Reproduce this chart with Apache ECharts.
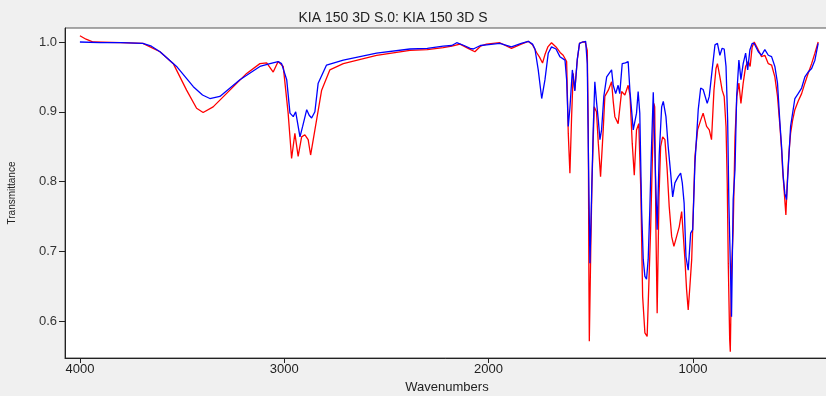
<!DOCTYPE html>
<html>
<head>
<meta charset="utf-8">
<script src="https://cdn.jsdelivr.net/npm/echarts@6/dist/echarts.min.js"></script>
<style>
html,body{margin:0;padding:0;background:#f0f0f0;}
#c{width:826px;height:396px;}
</style>
</head>
<body>
<div id="c"></div>
<script>
const titleText = 'KIA 150 3D S.0: KIA 150 3D S';
const xName = 'Wavenumbers';
const yName = 'Transmittance';
const xTicks = [4000, 3000, 2000, 1000];
const yTicks = [0.6, 0.7, 0.8, 0.9, 1.0];

const wnBlue = [4000,3900,3800,3692,3650,3608,3527,3445,3400,3364,3315,3217,3119,3070,3030,3013,2988,2972,2956,2944,2923,2910,2890,2878,2866,2850,2834,2793,2711,2548,2385,2300,2222,2180,2156,2120,2090,2075,2040,2010,1945,1888,1840,1806,1785,1773,1757,1740,1724,1708,1692,1670,1651,1626,1618,1610,1602,1590,1578,1566,1555,1540,1525,1517,1512,1504,1496,1488,1480,1471,1463,1455,1447,1436,1422,1410,1398,1390,1378,1366,1358,1346,1330,1317,1308,1292,1276,1268,1260,1251,1243,1235,1227,1219,1211,1203,1194,1187,1181,1175,1165,1153,1145,1132,1121,1109,1099,1088,1072,1060,1052,1043,1034,1023,1011,1001,990,974,962,950,930,920,904,892,880,868,857,847,838,830,824,817,811,803,794,786,775,765,754,742,732,721,710,700,680,664,648,631,615,599,586,574,566,558,550,542,534,522,512,501,485,468,452,436,419,403,387];
const tBlue = [1.000,0.999,0.999,0.998,0.994,0.986,0.965,0.936,0.924,0.919,0.922,0.946,0.965,0.969,0.972,0.969,0.946,0.898,0.893,0.900,0.864,0.879,0.903,0.895,0.891,0.900,0.941,0.967,0.974,0.984,0.990,0.991,0.994,0.995,0.999,0.995,0.991,0.990,0.995,0.996,0.998,0.993,0.998,1.001,0.997,0.990,0.960,0.919,0.946,0.984,0.993,0.990,0.979,0.974,0.946,0.879,0.905,0.960,0.930,0.975,0.998,1.000,1.001,0.969,0.850,0.683,0.778,0.874,0.943,0.912,0.888,0.860,0.874,0.922,0.950,0.955,0.960,0.938,0.926,0.938,0.926,0.969,0.970,0.972,0.929,0.874,0.898,0.929,0.898,0.759,0.688,0.664,0.660,0.688,0.759,0.845,0.928,0.928,0.788,0.731,0.838,0.907,0.915,0.893,0.850,0.812,0.778,0.798,0.807,0.812,0.798,0.769,0.692,0.673,0.726,0.731,0.826,0.903,0.934,0.932,0.912,0.922,0.965,0.996,0.998,0.981,0.991,0.990,0.965,0.888,0.769,0.683,0.606,0.774,0.817,0.922,0.974,0.946,0.969,0.984,0.960,0.989,0.998,0.998,0.986,0.981,0.989,0.981,0.979,0.965,0.941,0.883,0.850,0.807,0.783,0.774,0.817,0.879,0.898,0.919,0.926,0.934,0.950,0.957,0.962,0.974,0.998];

const wnRed = [4000,3970,3935,3800,3692,3608,3543,3478,3429,3397,3348,3266,3184,3119,3086,3054,3030,3005,2981,2964,2948,2932,2915,2899,2883,2871,2850,2817,2777,2711,2548,2385,2300,2222,2180,2140,2100,2067,2040,2010,1945,1888,1840,1806,1785,1765,1750,1736,1724,1710,1692,1670,1650,1635,1618,1610,1602,1594,1586,1578,1566,1555,1540,1527,1517,1512,1509,1507,1500,1494,1483,1472,1463,1452,1439,1431,1414,1398,1390,1382,1366,1358,1349,1333,1317,1308,1297,1287,1276,1265,1255,1246,1235,1224,1215,1207,1199,1191,1187,1181,1175,1166,1158,1148,1137,1126,1116,1104,1093,1080,1067,1055,1047,1039,1031,1023,1015,1006,998,990,977,962,950,933,920,909,897,887,880,868,857,847,838,832,827,820,817,811,803,794,785,775,765,754,742,729,720,710,700,684,664,648,631,615,599,586,574,566,561,555,545,538,530,522,512,501,485,468,452,436,419,403,387];
const tRed = [1.009,1.004,1.000,0.999,0.998,0.986,0.969,0.931,0.905,0.899,0.907,0.931,0.955,0.969,0.970,0.957,0.972,0.965,0.898,0.833,0.869,0.836,0.864,0.867,0.860,0.838,0.874,0.931,0.960,0.969,0.981,0.988,0.989,0.992,0.994,0.997,0.991,0.986,0.994,0.997,0.999,0.991,0.997,1.001,0.996,0.985,0.978,0.970,0.982,0.993,0.999,0.993,0.985,0.981,0.972,0.869,0.812,0.890,0.955,0.931,0.974,0.998,1.000,1.000,0.988,0.874,0.659,0.571,0.700,0.800,0.907,0.900,0.855,0.807,0.874,0.922,0.931,0.943,0.915,0.893,0.883,0.882,0.929,0.924,0.938,0.924,0.855,0.809,0.874,0.883,0.788,0.635,0.583,0.578,0.659,0.731,0.826,0.912,0.907,0.731,0.611,0.778,0.850,0.864,0.860,0.817,0.764,0.721,0.707,0.721,0.735,0.757,0.755,0.688,0.645,0.616,0.649,0.688,0.759,0.836,0.874,0.888,0.898,0.879,0.874,0.860,0.931,0.962,0.969,0.950,0.931,0.922,0.879,0.798,0.683,0.573,0.556,0.673,0.731,0.864,0.922,0.941,0.912,0.941,0.965,0.972,0.965,0.993,1.000,0.991,0.979,0.981,0.969,0.967,0.950,0.922,0.879,0.845,0.817,0.793,0.752,0.800,0.841,0.869,0.888,0.903,0.915,0.926,0.941,0.955,0.969,0.984,1.000];

const zip = (a, b) => a.map((v, i) => [v, b[i]]);

const chart = echarts.init(document.getElementById('c'), null, {renderer: 'canvas'});
const font = 'Liberation Sans, Arial, sans-serif';
chart.setOption({
  backgroundColor: '#f0f0f0',
  animation: false,
  title: {
    text: titleText,
    left: 388, top: 6, textAlign: 'center',
    textStyle: {fontFamily: font, fontSize: 14, fontWeight: 'normal', color: '#222'}
  },
  grid: {
    left: 65, right: -3, top: 28, bottom: 38,
    containLabel: false, outerBoundsMode: 'none',
    show: true, backgroundColor: '#ffffff', borderColor: '#555', borderWidth: 1
  },
  xAxis: {
    type: 'value', inverse: true, min: 334, max: 4073,
    name: xName, nameLocation: 'middle', nameGap: 20,
    nameTextStyle: {fontFamily: font, fontSize: 13, color: '#222'},
    axisLine: {show: true, onZero: false, lineStyle: {color: '#222', width: 1}},
    axisTick: {show: true, length: 5, customValues: xTicks, lineStyle: {color: '#222'}},
    axisLabel: {customValues: xTicks, fontFamily: font, fontSize: 13, color: '#222', margin: 5,
      formatter: v => String(Math.round(v))},
    splitLine: {show: false}
  },
  yAxis: {
    type: 'value', min: 0.547, max: 1.0201,
    name: yName, nameLocation: 'middle', nameGap: 48, nameRotate: 90,
    nameTextStyle: {fontFamily: font, fontSize: 10, color: '#222'},
    axisLine: {show: true, onZero: false, lineStyle: {color: '#222', width: 1}},
    axisTick: {show: true, length: 6, customValues: yTicks, lineStyle: {color: '#222'}},
    axisLabel: {customValues: yTicks, fontFamily: font, fontSize: 13, color: '#333', margin: 8,
      formatter: v => v.toFixed(1)},
    splitLine: {show: false}
  },
  series: [
    {type: 'line', data: zip(wnRed, tRed), showSymbol: false, symbol: 'none',
     lineStyle: {color: '#ff0000', width: 1.3}, z: 2},
    {type: 'line', data: zip(wnBlue, tBlue), showSymbol: false, symbol: 'none',
     lineStyle: {color: '#0000ff', width: 1.3}, z: 3}
  ]
});
</script>
</body>
</html>
